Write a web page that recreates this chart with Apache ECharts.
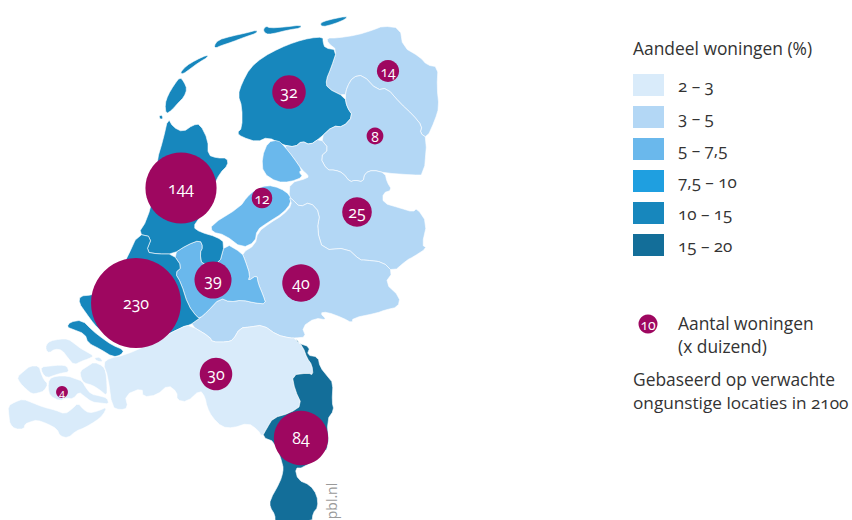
<!DOCTYPE html>
<html>
<head>
<meta charset="utf-8">
<script src="https://cdn.jsdelivr.net/npm/echarts@6/dist/echarts.min.js"></script>
<style>
  html, body { margin: 0; background: #fff; }
  #chart { width: 852px; height: 520px; }
  #chart text { font-variant-numeric: oldstyle-nums !important; }
</style>
</head>
<body>
<div id="chart"></div>
<script>
// provincies met het aandeel woningen (%), geschat uit de kaartklassen
const provincies = ['Groningen', 'Friesland', 'Drenthe', 'Overijssel', 'Flevoland', 'Gelderland', 'Utrecht', 'Noord-Holland', 'Zuid-Holland', 'Zeeland', 'Noord-Brabant', 'Limburg'];
const aandeel = [4, 12, 4, 4, 6, 4, 6, 12, 12, 2.5, 2.5, 17];

// aantal woningen (x duizend) per bel
const belNamen = ['Groningen', 'Friesland', 'Drenthe', 'Overijssel', 'Flevoland', 'Noord-Holland', 'Utrecht', 'Gelderland', 'Zuid-Holland', 'Noord-Brabant', 'Zeeland', 'Limburg'];
const aantal = [14, 32, 8, 25, 12, 144, 39, 40, 230, 30, 4, 84];
const belX = [388, 289, 375, 357, 262, 181, 213, 301, 136, 216, 62, 301];
const belY = [71, 92, 136, 212, 198, 188, 280, 283, 303, 374, 392, 438];

// legenda
const klasseLabels = ['2 – 3', '3 – 5', '5 – 7,5', '7,5 – 10', '10 – 15', '15 – 20'];
const klasseMin = [2, 3, 5, 7.5, 10, 15];
const klasseMax = [3, 5, 7.5, 10, 15, 20];
const klasseKleur = ['#d9ebfa', '#b3d7f5', '#6ab8ec', '#1f9fe0', '#1787bd', '#136e99'];

// provinciegrenzen, kaartcoordinaten in x,y
const vormen = {
  'Groningen': ['327,38 337,38 357,35 373,30 383,26 400,28 403,47 420,57 427,65 438,67 437,87 439,107 435,120 427,138 420,133 422,126 413,115 400,103 387,88 377,90 363,75 353,77 347,87 345,97 327,88 326,80 331,68 337,50 328,43'],
  'Friesland': ['323,37 310,38 295,42 280,48 263,57 250,68 242,83 238,95 242,107 242,128 237,133 242,137 257,142 268,137 283,145 295,147 302,141 310,145 320,138 333,126 343,127 353,116 347,107 345,97 327,88 326,80 331,68 337,50 325,48 323,42',
    '214,46 218,40 232,36 246,33 257,30 257,33 245,37 232,42 220,46 216,48',
    '180,73 186,66 196,60 207,55 208,57 198,63 190,69 183,74',
    '180,77 184,82 187,89 184,97 178,103 172,110 166,114 165,104 168,95 174,85',
    '159,116 162,115 163,119 160,119',
    '263,30 266,26 270,28 285,27 301,25 301,28 288,30 272,34 266,34',
    '320,23 328,20 347,16 346,19 334,24 322,27'],
  'Drenthe': ['345,97 347,87 353,77 363,75 377,90 387,88 400,103 413,115 422,126 420,133 427,138 424,175 413,175 385,173 373,170 365,173 363,182 355,180 350,182 343,173 335,170 327,170 320,157 329,149 320,138 333,126 343,127 353,116 347,107'],
  'Overijssel': ['283,145 295,147 302,141 310,145 320,138 329,149 320,157 327,170 335,170 343,173 350,182 355,180 363,182 365,173 373,170 385,173 387,182 392,190 383,193 383,203 400,208 413,212 417,208 427,223 422,245 427,248 413,257 407,260 393,272 383,262 365,260 360,260 347,248 323,250 317,230 320,213 310,202 300,207 293,200 289,197 290,183 308,178 308,175 302,170 293,157'],
  'Flevoland': ['267,185 280,188 290,195 291,203 283,213 267,223 257,230 255,242 242,248 225,235 212,232 211,225 240,207 247,197 255,190',
    '268,142 278,140 285,147 293,157 302,170 299,172 303,177 290,182 277,182 263,173 262,157'],
  'Gelderland': ['289,197 293,200 300,207 310,202 320,213 317,230 323,250 347,248 360,260 365,260 383,262 393,272 385,283 400,297 398,307 385,310 377,313 353,318 352,323 343,318 327,312 320,313 327,320 315,318 302,327 306,337 295,338 290,338 277,335 263,325 250,327 240,328 233,340 227,342 212,342 210,337 190,325 197,320 200,318 207,312 220,298 230,302 242,300 255,303 266,304 263,295 258,283 257,275 248,281 250,275 245,260 242,253 255,245 258,232 270,223 283,215 292,205'],
  'Utrecht': ['173,254 187,245 200,240 203,247 200,253 202,265 219,265 225,243 242,253 245,260 250,275 248,281 257,275 258,283 263,295 266,304 255,303 242,300 230,302 220,298 207,312 200,318 197,317 188,305 181,283 175,273 182,267'],
  'Noord-Holland': ['168,118 173,127 183,132 193,125 200,124 208,140 208,155 217,158 227,158 228,165 220,173 213,187 205,200 200,217 193,227 200,232 217,237 225,243 219,265 202,265 200,253 203,247 200,240 187,245 173,254 158,254 146,252 152,237 138,234 147,220 155,190 157,160 163,140'],
  'Zuid-Holland': ['138,234 152,237 146,252 158,254 173,254 182,267 175,273 181,283 188,305 197,317 200,318 197,320 190,325 182,327 148,345 125,345 100,330 94,324 86,313 79,303 80,296 92,295 110,290 127,258',
    '67,327 70,322 82,320 93,331 102,338 112,345 124,350 121,355 113,357 100,349 88,343 85,334 72,329'],
  'Zeeland': ['46,345 50,341 60,339 68,339 75,344 80,348 87,352 94,356 88,359 82,361 74,365 68,358 62,350 55,349 49,353 46,350',
    '80,371 88,366 94,362 103,366 106,372 107,385 107,396 100,390 92,385 84,383 81,378',
    '94,358 100,357 103,362 97,361',
    '41,367 50,366 60,365 67,366 69,372 62,373 55,375 47,378 42,373',
    '17,377 24,371 30,366 39,366 41,373 44,380 48,384 44,391 38,393 32,394 26,389 20,383',
    '49,379 56,376 68,376 76,379 82,381 86,388 91,394 100,396 107,398 109,404 100,403 92,402 84,396 79,392 73,399 66,398 60,401 50,396 48,388',
    '8,406 15,402 23,399 33,403 43,407 55,410 65,414 72,409 78,403 83,409 89,413 98,411 107,407 103,415 96,421 84,428 76,431 68,438 60,436 57,429 48,424 37,420 30,422 25,424 24,429 15,429 10,424 9,417'],
  'Noord-Brabant': ['125,355 148,345 182,327 190,325 210,337 212,342 227,342 233,340 240,328 250,327 263,325 277,335 290,338 295,338 303,347 307,358 312,365 313,375 308,373 292,375 295,390 302,405 290,413 273,418 267,428 262,437 258,430 248,423 233,428 222,427 212,417 207,407 205,397 200,390 187,402 177,400 177,392 168,385 157,395 143,397 142,388 125,395 128,408 120,410 112,407 108,377 103,363 110,358'],
  'Limburg': ['295,338 298,343 310,347 307,355 318,357 320,367 328,377 333,383 332,402 334,410 327,420 329,447 320,455 303,468 295,468 298,480 310,485 317,495 318,507 313,513 312,522 275,522 275,515 270,507 270,500 280,482 283,472 283,465 275,442 262,437 267,428 273,418 290,413 302,405 295,390 292,375 308,373 313,375 312,365 307,358 303,347']
};

// hoeken afronden zodat de kust minder hoekig is
function rondAf(pts) {
  const uit = [];
  pts.forEach((p, i) => {
    const q = pts[(i + 1) % pts.length];
    uit.push([p[0] * 0.75 + q[0] * 0.25, p[1] * 0.75 + q[1] * 0.25]);
    uit.push([p[0] * 0.25 + q[0] * 0.75, p[1] * 0.25 + q[1] * 0.75]);
  });
  return uit;
}

// y omdraaien: geo verwacht de breedtegraad omhoog
function ring(str) {
  const pts = rondAf(str.split(' ').map(p => {
    const [x, y] = p.split(',').map(Number);
    return [x, -y];
  }));
  pts.push(pts[0]);
  return [pts];
}

const kaart = {
  type: 'FeatureCollection',
  features: provincies.map(name => ({
    type: 'Feature',
    properties: { name },
    geometry: { type: 'MultiPolygon', coordinates: vormen[name].map(ring) }
  }))
};

echarts.registerMap('nl', kaart);

const bolKleur = '#9e0760';
const fontFam = '"Open Sans", sans-serif';
const tekstKleur = '#333';

function tekst(x, y, str, size) {
  return {
    type: 'text',
    x, y,
    silent: true,
    style: { text: str, fill: tekstKleur, font: size + 'px ' + fontFam, textVerticalAlign: 'middle' }
  };
}

const chart = echarts.init(document.getElementById('chart'), null, { renderer: 'svg' });

chart.setOption({
  animation: false,
  backgroundColor: '#fff',
  textStyle: { fontFamily: fontFam },
  tooltip: { show: false },
  geo: {
    map: 'nl',
    roam: false,
    silent: true,
    aspectScale: 1,
    left: 0,
    top: 0,
    width: 852,
    height: 520,
    boundingCoords: [[0, 0], [852, -520]],
    label: { show: false },
    itemStyle: { borderColor: '#ffffff', borderWidth: 0.6, areaColor: '#eee' },
    emphasis: { disabled: true }
  },
  visualMap: {
    type: 'piecewise',
    seriesIndex: 0,
    orient: 'vertical',
    inverse: true,
    align: 'left',
    left: 633,
    top: 74,
    padding: 0,
    itemWidth: 31,
    itemHeight: 22,
    itemGap: 10,
    textGap: 14,
    itemSymbol: 'rect',
    selectedMode: false,
    hoverLink: false,
    showLabel: true,
    textStyle: { color: tekstKleur, fontSize: 17, fontFamily: fontFam },
    pieces: klasseLabels.map((label, i) => ({
      min: klasseMin[i],
      max: klasseMax[i],
      label,
      color: klasseKleur[i]
    }))
  },
  series: [
    {
      type: 'map',
      geoIndex: 0,
      silent: true,
      data: provincies.map((name, i) => ({ name, value: aandeel[i] }))
    },
    {
      type: 'scatter',
      coordinateSystem: 'geo',
      geoIndex: 0,
      silent: true,
      z: 5,
      symbol: 'circle',
      // oppervlak van de bel evenredig met het aantal
      symbolSize: val => 5.93 * Math.sqrt(val[2]),
      itemStyle: { color: bolKleur, opacity: 1 },
      label: {
        show: true,
        position: 'inside',
        color: '#fff',
        fontFamily: fontFam,
        formatter: p => p.value[2],
        fontSize: 14
      },
      data: belNamen.map((name, i) => ({
        name,
        value: [belX[i], -belY[i], aantal[i]],
        label: { fontSize: aantal[i] < 5 ? 11 : aantal[i] < 15 ? 14 : 16 }
      }))
    }
  ],
  graphic: [
    tekst(633, 48, 'Aandeel woningen (%)', 17.4),
    {
      type: 'circle',
      silent: true,
      shape: { cx: 648, cy: 324, r: 9.5 },
      style: { fill: bolKleur }
    },
    {
      type: 'text',
      x: 648,
      y: 324,
      silent: true,
      z: 10,
      style: { text: '10', fill: '#fff', font: '14px ' + fontFam, textAlign: 'center', textVerticalAlign: 'middle' }
    },
    tekst(678, 323, 'Aantal woningen', 17.4),
    tekst(678, 346, '(x duizend)', 17.4),
    tekst(633, 379, 'Gebaseerd op verwachte', 17.4),
    tekst(633, 402, 'ongunstige locaties in 2100', 17.2),
    {
      type: 'text',
      x: 331,
      y: 501,
      rotation: Math.PI / 2,
      silent: true,
      style: { text: 'pbl.nl', fill: '#9a9a9a', font: '14px ' + fontFam, textAlign: 'center', textVerticalAlign: 'middle' }
    }
  ]
});
</script>
</body>
</html>
